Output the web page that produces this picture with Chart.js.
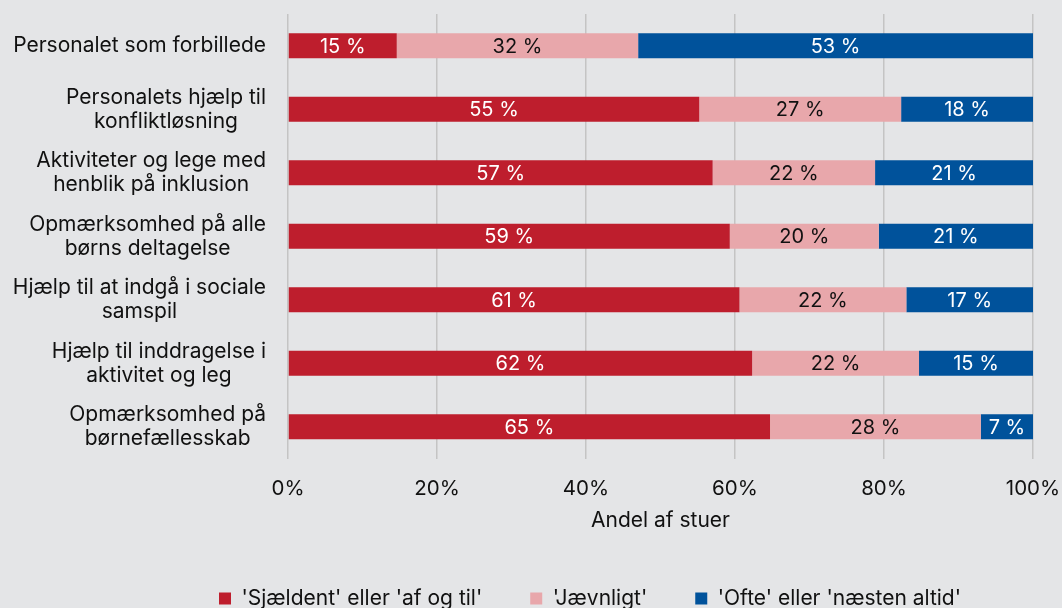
<!DOCTYPE html>
<html><head><meta charset="utf-8">
<script src="https://cdn.jsdelivr.net/npm/chart.js@4"></script>
<style>html,body{margin:0;padding:0;background:#e4e5e7;}#wrap{width:1062px;height:608px;position:relative;}</style>
</head><body><div id="wrap"><canvas id="c"></canvas></div>
<script>
const categories = [
  ["Personalet som forbillede"],
  ["Personalets hjælp til", "konfliktløsning"],
  ["Aktiviteter og lege med", "henblik på inklusion"],
  ["Opmærksomhed på alle", "børns deltagelse"],
  ["Hjælp til at indgå i sociale", "samspil"],
  ["Hjælp til inddragelse i", "aktivitet og leg"],
  ["Opmærksomhed på", "børnefællesskab"]
];
const seriesNames = ["'Sjældent' eller 'af og til'", "'Jævnligt'", "'Ofte' eller 'næsten altid'"];
const rarely    = [14.6, 55.2, 57.0, 59.3, 60.6, 62.3, 64.7];
const regularly = [32.4, 27.1, 21.8, 20.0, 22.4, 22.4, 28.3];
const often     = [53.0, 17.7, 21.2, 20.7, 17.0, 15.3, 7.0];
const xTicks = [0, 20, 40, 60, 80, 100];
const axisTitle = "Andel af stuer";

const FONT = "Inter";
const colors = ["#be1e2d", "#e8a7ab", "#00529b"];
const labelColors = ["#ffffff", "#111111", "#ffffff"];

const yLabelPlugin = {
  id: 'yLabels',
  afterDraw(chart) {
    const ys = chart.scales.y, ctx = chart.ctx;
    ctx.save();
    ctx.font = "21px " + FONT;
    ctx.fillStyle = "#111111";
    ctx.textAlign = "center";
    ctx.textBaseline = "middle";
    const lh = 24;
    const right = chart.chartArea.left - 22;
    categories.forEach((lines, i) => {
      const y = ys.getPixelForTick(i);
      const w = Math.max(...lines.map(l => ctx.measureText(l).width));
      const cx = right - w / 2;
      const y0 = y - (lines.length - 1) * lh / 2;
      lines.forEach((l, j) => ctx.fillText(l, cx, y0 + j * lh));
    });
    ctx.restore();
  }
};

const barLabelPlugin = {
  id: 'barLabels',
  afterDatasetsDraw(chart) {
    const ctx = chart.ctx;
    ctx.save();
    ctx.font = "20px " + FONT;
    ctx.textAlign = "center";
    ctx.textBaseline = "middle";
    chart.data.datasets.forEach((ds, di) => {
      const meta = chart.getDatasetMeta(di);
      ctx.fillStyle = labelColors[di];
      meta.data.forEach((bar, i) => {
        const v = ds.data[i];
        const cx = (bar.x + bar.base) / 2;
        ctx.fillText(Math.round(v) + " %", cx, bar.y + 1);
      });
    });
    ctx.restore();
  }
};

const legendShift = {
  id: 'legendShift',
  afterLayout(chart) {
    const lg = chart.legend;
    const shift = 590 - (lg.left + lg.right) / 2;
    lg.left += shift; lg.right += shift;
  }
};

new Chart(document.getElementById('c'), {
  type: 'bar',
  data: {
    labels: categories,
    datasets: [
      { label: seriesNames[0], data: rarely, backgroundColor: colors[0] },
      { label: seriesNames[1], data: regularly, backgroundColor: colors[1] },
      { label: seriesNames[2], data: often, backgroundColor: colors[2] }
    ]
  },
  options: {
    indexAxis: 'y',
    responsive: true,
    maintainAspectRatio: false,
    animation: false,
    layout: { padding: { top: 14, right: 0, bottom: 0, left: 0 } },
    datasets: { bar: { barPercentage: 0.39, categoryPercentage: 1.0, borderWidth: 0 } },
    scales: {
      x: {
        stacked: true, min: 0, max: 100,
        afterBuildTicks(scale) { scale.ticks = xTicks.map(v => ({ value: v })); },
        afterFit(scale) { scale.height = 81.5; scale.paddingRight = 29; scale.paddingLeft = 0; },
        grid: { color: "#c4c4c4", lineWidth: 1.5, drawTicks: false },
        border: { display: false },
        ticks: { font: { family: FONT, size: 20.5 }, color: "#111111", padding: 17.7, callback: v => v + "%" },
        title: { display: true, text: axisTitle, font: { family: FONT, size: 21 }, color: "#111111", padding: { top: 0, bottom: 6.9 } }
      },
      y: {
        stacked: true,
        afterFit(scale) { scale.width = 288; },
        grid: { display: false, drawTicks: false },
        border: { display: false },
        ticks: { display: false }
      }
    },
    plugins: {
      legend: {
        position: 'bottom',
        maxHeight: 68,
        labels: { boxWidth: 12, boxHeight: 12, padding: 48, font: { family: FONT, size: 21 }, color: "#111111" }
      },
      tooltip: { enabled: false }
    }
  },
  plugins: [yLabelPlugin, barLabelPlugin, legendShift]
});
</script>
</body></html>
